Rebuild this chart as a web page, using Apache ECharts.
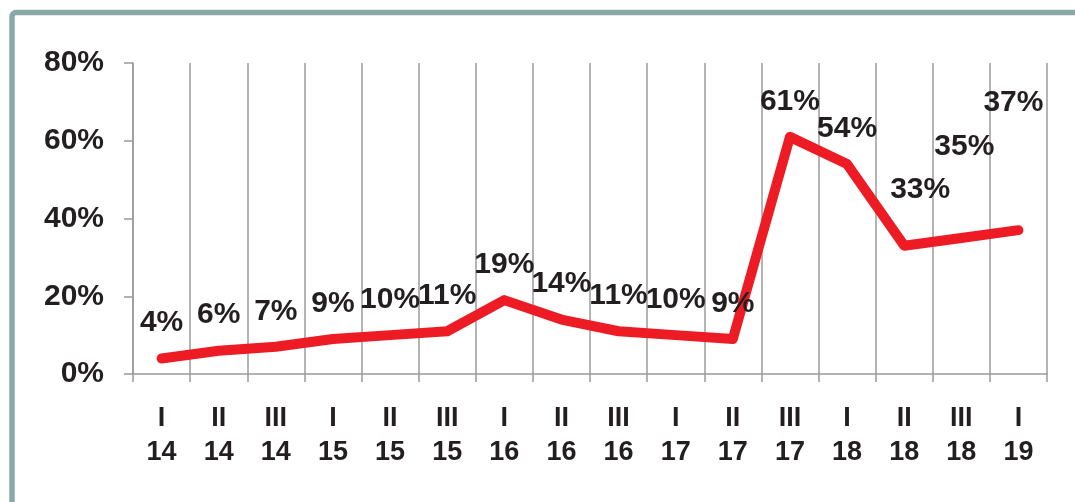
<!DOCTYPE html>
<html>
<head>
<meta charset="utf-8">
<script src="https://cdn.jsdelivr.net/npm/echarts@6/dist/echarts.min.js"></script>
<style>
html,body{margin:0;padding:0;background:#fff;}
#c{width:1075px;height:502px;}
</style>
</head>
<body>
<div id="c"></div>
<script>
const categories = ['I\n14','II\n14','III\n14','I\n15','II\n15','III\n15','I\n16','II\n16','III\n16','I\n17','II\n17','III\n17','I\n18','II\n18','III\n18','I\n19'];
const values = [4, 6, 7, 9, 10, 11, 19, 14, 11, 10, 9, 61, 54, 33, 35, 37];
const yTicks = [0, 20, 40, 60, 80];

// label nudges (style only, by category index)
const labelNudge = {13: [16, -20], 14: [3, -56], 15: [-5, -92]};

const seriesData = values.map((v, i) => labelNudge[i] ? {value: v, label: {offset: labelNudge[i]}} : v);

const chart = echarts.init(document.getElementById('c'));
const txt = '#231f20';
const gridCol = '#9b9b9b';
chart.setOption({
  animation: false,
  backgroundColor: '#fff',
  graphic: [{
    type: 'rect',
    shape: {x: 12, y: 12.5, width: 1200, height: 700, r: 4},
    style: {fill: 'none', stroke: '#8aa8a8', lineWidth: 5.5},
    silent: true, z: -10
  }],
  grid: {left: 133, right: 28, top: 63, bottom: 128},
  xAxis: {
    type: 'category',
    data: categories,
    boundaryGap: true,
    axisLine: {lineStyle: {color: gridCol, width: 1.5}},
    axisTick: {show: true, length: 8, lineStyle: {color: gridCol, width: 1.5}},
    splitLine: {show: true, lineStyle: {color: gridCol, width: 1.5}},
    axisLabel: {color: txt, fontFamily: 'Liberation Sans', fontWeight: 'bold', fontSize: 27, lineHeight: 34, margin: 28, interval: 0}
  },
  yAxis: {
    type: 'value',
    min: yTicks[0], max: yTicks[yTicks.length - 1], interval: 20,
    axisLine: {show: true, lineStyle: {color: gridCol, width: 1.5}},
    axisTick: {show: true, length: 9, lineStyle: {color: gridCol, width: 1.5}},
    splitLine: {show: false},
    axisLabel: {color: txt, fontFamily: 'Liberation Sans', fontWeight: 'bold', fontSize: 30, margin: 29, formatter: '{value}%'}
  },
  series: [{
    type: 'line',
    data: seriesData,
    symbol: 'circle',
    symbolSize: 1,
    showSymbol: true,
    itemStyle: {color: 'rgba(0,0,0,0)'},
    lineStyle: {color: '#ed1c24', width: 10, cap: 'round', join: 'round'},
    label: {show: true, position: 'top', distance: 20, formatter: '{c}%', color: txt, fontFamily: 'Liberation Sans', fontWeight: 'bold', fontSize: 30, lineHeight: 30},
    z: 5
  }]
});
</script>
</body>
</html>
